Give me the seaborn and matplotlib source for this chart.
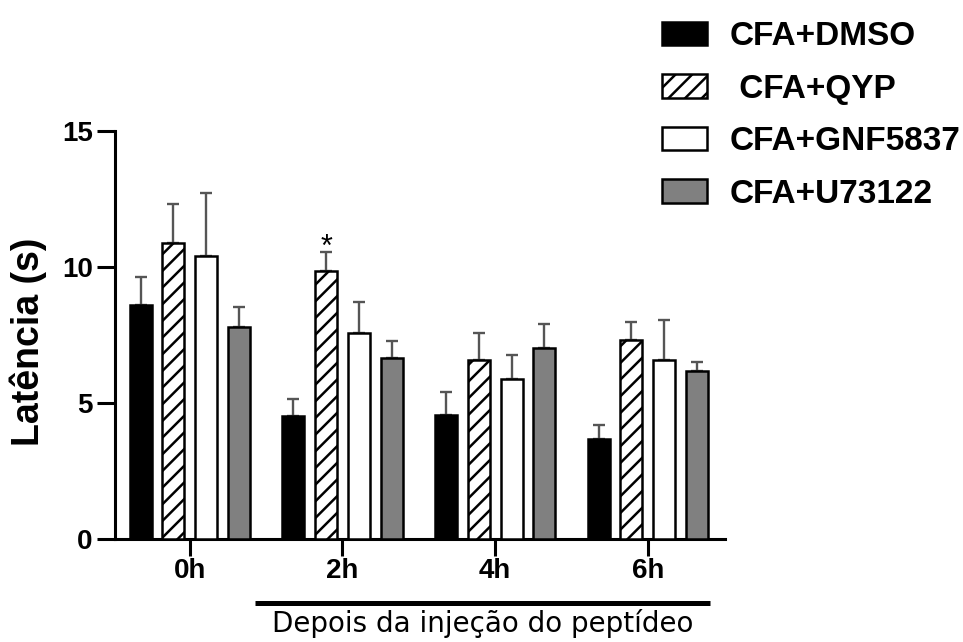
import numpy as np
import pandas as pd
import matplotlib
matplotlib.use("Agg")
import matplotlib.pyplot as plt
import matplotlib.transforms as mtransforms
from matplotlib.patches import Patch
import seaborn as sns

# ---- data -------------------------------------------------------------
times = ["0h", "2h", "4h", "6h"]
groups = ["CFA+DMSO", "CFA+QYP", "CFA+GNF5837", "CFA+U73122"]
legend_labels = ["CFA+DMSO", " CFA+QYP", "CFA+GNF5837", "CFA+U73122"]

mean_dmso = [8.58, 4.51, 4.54, 3.65]
mean_qyp = [10.85, 9.83, 6.56, 7.30]
mean_gnf = [10.39, 7.57, 5.85, 6.56]
mean_u73 = [7.79, 6.62, 7.01, 6.16]

sem_dmso = [1.05, 0.61, 0.83, 0.52]
sem_qyp = [1.45, 0.71, 0.98, 0.67]
sem_gnf = [2.32, 1.12, 0.90, 1.47]
sem_u73 = [0.71, 0.64, 0.86, 0.32]

qyp_marks = ["", "*", "", ""]

ylabel = "Latência (s)"
xnote = "Depois da injeção do peptídeo"
yticks = [0, 5, 10, 15]

# ---- styling ----------------------------------------------------------
sns.set_style("ticks")
plt.rcParams["font.family"] = ["Liberation Sans", "DejaVu Sans"]
plt.rcParams["font.weight"] = "bold"
plt.rcParams["hatch.linewidth"] = 1.8
plt.rcParams["hatch.color"] = "black"
for key in ["text.color", "axes.labelcolor", "xtick.color",
            "ytick.color", "axes.edgecolor"]:
    plt.rcParams[key] = "black"

fills = ["#000000", "#ffffff", "#ffffff", "#808080"]
hatches = ["", "//", "", ""]
palette = dict(zip(groups, fills))

means = [mean_dmso, mean_qyp, mean_gnf, mean_u73]
sems = [sem_dmso, sem_qyp, sem_gnf, sem_u73]
df = pd.DataFrame({
    "time": np.tile(times, len(groups)),
    "group": np.repeat(groups, len(times)),
    "latency": np.concatenate(means),
})

fig = plt.figure(figsize=(9.63, 6.42), dpi=100)
ax = fig.add_axes([0.1194, 0.1612, 0.6334, 0.6355])

sns.barplot(data=df, x="time", y="latency", hue="group",
            order=times, hue_order=groups, palette=palette,
            saturation=1, width=0.86, gap=0.33, errorbar=None,
            edgecolor="black", linewidth=1.8, legend=False, ax=ax)

bar_containers = list(ax.containers)

# hatching and one-sided SEM bars
for gi, cont in enumerate(bar_containers):
    xs, ys = [], []
    for bar in cont.patches:
        bar.set_hatch(hatches[gi])
        bar.set_zorder(3)
        xs.append(bar.get_x() + bar.get_width() / 2)
        ys.append(bar.get_height())
    err = sems[gi]
    ax.errorbar(xs, ys, yerr=[np.zeros(len(err)), err], fmt="none",
                ecolor="#555555", elinewidth=1.7, capsize=4.3,
                capthick=1.7, zorder=2)
    if gi == 1:
        for x, y, e, m in zip(xs, ys, err, qyp_marks):
            if m:
                ax.annotate(m, xy=(x, y + e), xytext=(0, -3),
                            textcoords="offset points", ha="center",
                            va="baseline", fontsize=22,
                            fontweight="normal")

ax.set_ylim(0, 15)
ax.set_yticks(yticks)
ax.set_xlim(-0.49, 3.505)
ax.set_xlabel("")
ax.set_ylabel(ylabel, fontsize=27, fontweight="bold")
ax.yaxis.set_label_coords(-0.112, 0.483)

sns.despine(ax=ax)
for side in ["left", "bottom"]:
    ax.spines[side].set_linewidth(2.2)
ax.tick_params(axis="y", length=13, width=2.2, labelsize=20, pad=3)
ax.tick_params(axis="x", length=12, width=2.2, labelsize=20, pad=2)

# bracket line and caption under the post-injection time points
trans = mtransforms.blended_transform_factory(ax.transData, ax.transAxes)
ax.plot([0.426, 3.406], [-0.158, -0.158], color="black", lw=3.6,
        transform=trans, clip_on=False, solid_capstyle="butt")
ax.text(1.916, -0.229, xnote, transform=trans, ha="center", va="baseline",
        fontsize=20, fontweight="normal", family=["DejaVu Sans"])

handles = [Patch(facecolor=f, edgecolor="black", hatch=h, linewidth=1.8)
           for f, h in zip(fills, hatches)]
fig.legend(handles, legend_labels, loc="upper left",
           bbox_to_anchor=(0.687, 0.967), frameon=False, fontsize=24,
           handlelength=1.35, handleheight=0.69, handletextpad=0.69,
           labelspacing=0.645, borderpad=0, borderaxespad=0)

fig.savefig("out.png", dpi=100)
